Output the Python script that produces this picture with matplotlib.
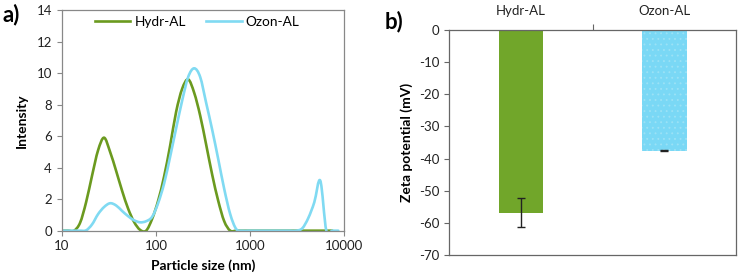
import matplotlib
matplotlib.use("Agg")
import matplotlib.pyplot as plt
from matplotlib.path import Path
from matplotlib.patches import PathPatch
import numpy as np

plt.rcParams['font.family'] = ['Lato', 'DejaVu Sans']
plt.rcParams['axes.unicode_minus'] = False
plt.rcParams['hatch.linewidth'] = 0.6

# DLS size bins (nm)
sizes = [10.1, 11.7, 13.54, 15.69, 18.17, 21.04, 24.36, 28.21, 32.67, 37.84,
         43.82, 50.75, 58.77, 68.06, 78.82, 91.28, 105.7, 122.4, 141.8, 164.2,
         190.1, 220.2, 255.0, 295.3, 342.0, 396.1, 458.7, 531.2, 615.1, 712.4,
         825.0, 955.4, 1106, 1281, 1484, 1718, 1990, 2305, 2669, 3091,
         3580, 4145, 4801, 5560, 6439, 7456, 8635]

hydr_int = [0, 0, 0, 0.5, 1.8, 3.5, 5.1, 5.9, 5.0, 3.8,
            2.53, 1.4, 0.55, 0.05, 0, 0.75, 1.9, 3.45, 5.4, 7.55,
            9.0, 9.6, 8.75, 7.3, 5.45, 3.55, 1.9, 0.6, 0, 0,
            0, 0, 0, 0, 0, 0, 0, 0, 0, 0,
            0, 0, 0, 0, 0, 0]

ozon_int = [0, 0, 0, 0, 0.02, 0.4, 1.05, 1.5, 1.74, 1.6,
            1.25, 0.92, 0.66, 0.53, 0.6, 0.88, 1.75, 3.0, 4.7, 6.5,
            8.25, 9.75, 10.3, 9.75, 8.1, 6.4, 4.55, 2.65, 1.05, 0.1,
            0, 0, 0, 0, 0, 0, 0, 0, 0, 0,
            0.15, 0.8, 1.8, 3.17, 0, 0, 0]

samples = ['Hydr-AL', 'Ozon-AL']
zeta = [-56.9, -37.5]
zeta_err = [4.5, 0.3]

green_line = '#6B9A1F'
cyan_line = '#80DAF2'
green_bar = '#71A62A'
cyan_bar = '#7AD8F5'


def smooth_path(xs, ys):
    # Excel-style smoothed line: Bezier segments through the points (log x)
    lx = np.log10(xs)
    y = np.asarray(ys, float)
    n = len(lx)
    verts = [(xs[0], y[0])]
    codes = [Path.MOVETO]
    for i in range(n - 1):
        i0 = max(i - 1, 0)
        i3 = min(i + 2, n - 1)
        c1x = lx[i] + (lx[i + 1] - lx[i0]) / 6
        c1y = y[i] + (y[i + 1] - y[i0]) / 6
        c2x = lx[i + 1] - (lx[i3] - lx[i]) / 6
        c2y = y[i + 1] - (y[i3] - y[i]) / 6
        verts += [(10 ** c1x, c1y), (10 ** c2x, c2y), (xs[i + 1], y[i + 1])]
        codes += [Path.CURVE4] * 3
    return Path(verts, codes)


fig = plt.figure(figsize=(7.4, 2.79), dpi=100)
tick_col = '#222222'

# ---- panel a
ax1 = fig.add_axes([0.0833, 0.1732, 0.382, 0.791])
ax1.set_xscale('log')
ax1.set_xlim(10, 10000)
ax1.set_ylim(0, 14)

for xs, ys, c, lab in [(sizes[:len(hydr_int)], hydr_int, green_line, 'Hydr-AL'),
                       (sizes[:len(ozon_int)], ozon_int, cyan_line, 'Ozon-AL')]:
    p = PathPatch(smooth_path(xs, ys), facecolor='none', edgecolor=c, lw=1.9,
                  capstyle='round', joinstyle='round')
    ax1.add_patch(p)
    ax1.plot([], [], color=c, lw=1.9, label=lab)

ax1.set_xticks([10, 100, 1000, 10000])
ax1.set_xticklabels(['10', '100', '1000', '10000'])
ax1.xaxis.set_minor_locator(matplotlib.ticker.NullLocator())
ax1.set_yticks(range(0, 15, 2))
ax1.tick_params(labelsize=9.5, labelcolor=tick_col, color='#888888',
                length=3.5, width=0.8)
for s in ax1.spines.values():
    s.set_color('#888888')
    s.set_linewidth(0.9)
ax1.set_xlabel('Particle size (nm)', fontsize=10, fontweight='bold', labelpad=5)
ax1.set_ylabel('Intensity', fontsize=10, fontweight='bold', labelpad=6)
ax1.legend(loc='upper center', ncol=2, frameon=False, fontsize=9.8,
           handlelength=2.6, handletextpad=0.3, columnspacing=1.5,
           bbox_to_anchor=(0.48, 1.03))
fig.text(0.004, 0.925, 'a)', fontsize=16, fontweight='bold')

# ---- panel b
ax2 = fig.add_axes([0.6068, 0.086, 0.388, 0.8065])
pos = np.arange(len(samples))
ax2.bar(pos[0], zeta[0], width=0.31, color=green_bar)
ax2.bar(pos[1], zeta[1], width=0.31, color=cyan_bar, hatch='...',
        edgecolor='#9CE2F6', linewidth=0)
ax2.errorbar(pos, zeta, yerr=zeta_err, fmt='none', ecolor='#222222',
             elinewidth=1.0, capsize=3, capthick=1.0)
ax2.set_xlim(-0.5, 1.5)
ax2.set_ylim(-70, 0)
ax2.xaxis.tick_top()
ax2.set_xticks([0.5])
ax2.set_xticklabels([''])
ax2.set_xticks(pos, minor=True)
ax2.set_xticklabels(samples, minor=True)
ax2.tick_params(axis='x', which='minor', length=0, labelsize=9.5, pad=9,
                labelcolor=tick_col)
ax2.tick_params(axis='x', which='major', length=4, width=0.8, color='#666666')
ax2.set_yticks(range(-70, 1, 10))
ax2.tick_params(axis='y', labelsize=9.5, labelcolor=tick_col, color='#666666',
                length=3.5, width=0.8)
for s in ax2.spines.values():
    s.set_color('#666666')
    s.set_linewidth(0.9)
ax2.set_ylabel('Zeta potential (mV)', fontsize=10, fontweight='bold', labelpad=4)
fig.text(0.52, 0.9, 'b)', fontsize=16, fontweight='bold')

fig.savefig('out.png', dpi=100)
